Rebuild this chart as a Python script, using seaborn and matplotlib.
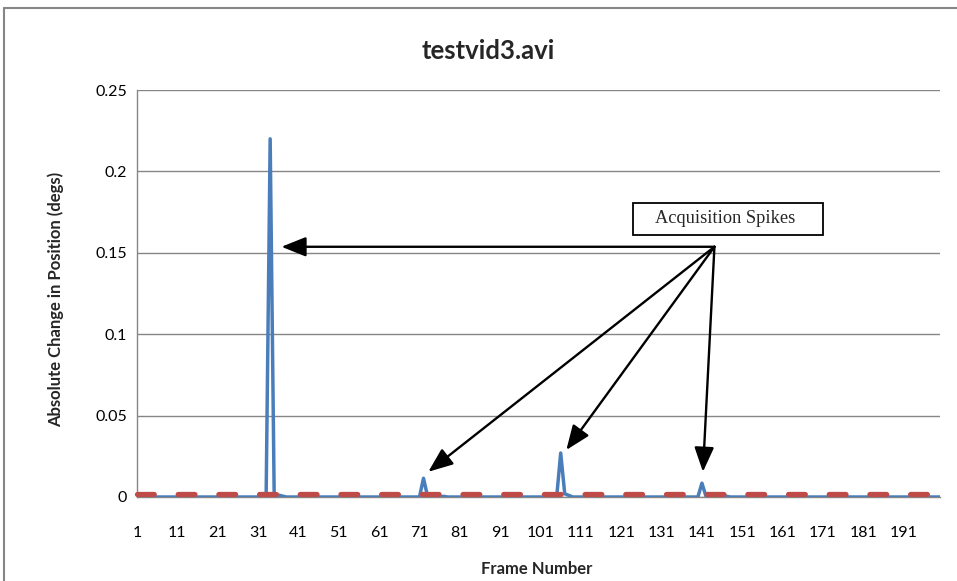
import matplotlib
matplotlib.use("Agg")
import matplotlib.pyplot as plt
from matplotlib.lines import Line2D
from matplotlib.patches import Rectangle
import seaborn as sns
import pandas as pd

# ---- data ----
frames = list(range(1, 201))
abs_change = [
    0, 0, 0, 0, 0, 0, 0, 0, 0, 0, 0, 0, 0, 0, 0, 0, 0, 0, 0, 0,            # 1-20
    0, 0, 0, 0, 0, 0, 0, 0, 0, 0, 0, 0, 0, 0.22, 0, 0.0012, 0.0006, 0, 0, 0,  # 21-40
    0, 0, 0, 0, 0, 0, 0, 0, 0, 0, 0, 0, 0, 0, 0, 0, 0, 0, 0, 0,            # 41-60
    0, 0, 0, 0, 0, 0, 0, 0, 0, 0, 0, 0.0115, 0.0005, 0, 0, 0, 0.0004, 0, 0, 0,  # 61-80
    0, 0, 0, 0, 0, 0, 0, 0, 0, 0, 0, 0, 0, 0, 0, 0, 0, 0, 0, 0,            # 81-100
    0, 0, 0, 0, 0, 0.027, 0.002, 0.001, 0, 0, 0, 0, 0.0004, 0, 0, 0, 0, 0, 0, 0,  # 101-120
    0, 0, 0, 0, 0, 0, 0, 0, 0, 0, 0, 0, 0, 0, 0, 0, 0, 0, 0, 0,            # 121-140
    0.0085, 0.0005, 0, 0, 0, 0, 0.0005, 0, 0, 0, 0, 0, 0, 0, 0, 0, 0, 0, 0, 0,  # 141-160
    0, 0, 0, 0, 0, 0, 0, 0, 0, 0, 0, 0, 0, 0, 0.0005, 0, 0, 0, 0, 0,       # 161-180
    0, 0, 0, 0, 0, 0, 0, 0, 0, 0, 0, 0, 0, 0, 0, 0, 0, 0, 0, 0,            # 181-200
]
threshold = [0.0016] * len(frames)

xtick_values = [1, 11, 21, 31, 41, 51, 61, 71, 81, 91, 101, 111, 121, 131, 141, 151, 161, 171, 181, 191]
ytick_values = [0, 0.05, 0.1, 0.15, 0.2, 0.25]
ytick_labels = ["0", "0.05", "0.1", "0.15", "0.2", "0.25"]

title = "testvid3.avi"
xlabel = "Frame Number"
ylabel = "Absolute Change in Position (degs)"
note = "Acquisition Spikes"

df = pd.DataFrame({"frame": frames, "change": abs_change, "threshold": threshold})

# ---- style ----
sns.set_style("white")
plt.rcParams["font.family"] = ["Lato", "DejaVu Sans"]

BLUE = "#4A7EBB"
RED = "#BE4B48"
GRID = "#868686"
W, H, DPI = 957, 581, 100

fig = plt.figure(figsize=(W / DPI, H / DPI), dpi=DPI)
ax = fig.add_axes([137 / W, 1 - 497 / H, (940 - 137) / W, (497 - 90) / H])

sns.lineplot(data=df, x="frame", y="change", ax=ax, color=BLUE, linewidth=2.5,
             zorder=3)
sns.lineplot(data=df, x="frame", y="threshold", ax=ax, color=RED, linewidth=3.8,
             zorder=4)
red_line = ax.lines[-1]
red_line.set_dashes((3.17, 4.54))
red_line.set_dash_capstyle("round")
red_line.set_clip_on(False)

ax.set_xlim(1, 200)
ax.set_ylim(0, 0.25)
ax.set_xticks(xtick_values)
ax.set_xticklabels([str(v) for v in xtick_values])
ax.set_yticks(ytick_values)
ax.set_yticklabels(ytick_labels)
ax.grid(axis="y", color=GRID, linewidth=1.0)
ax.set_axisbelow(True)
for side in ["top", "right"]:
    ax.spines[side].set_visible(False)
for side in ["left", "bottom"]:
    ax.spines[side].set_color(GRID)
    ax.spines[side].set_linewidth(1.0)
ax.tick_params(axis="both", direction="out", length=4, width=1.0, color=GRID,
               labelsize=11.5, labelcolor="black")
ax.tick_params(axis="x", pad=17)
ax.tick_params(axis="y", pad=3)
ax.set_xlabel("")
ax.set_ylabel("")

# axis titles and chart title
fig.text(537 / W, 1 - 569 / H, xlabel, ha="center", va="center", fontsize=12, fontweight="bold")
fig.text(56 / W, 1 - 299 / H, ylabel, ha="center", va="center", rotation=90, fontsize=12,
         fontweight="bold")
fig.text(488 / W, 1 - 51 / H, title, ha="center", va="center", fontsize=18.5, fontweight="bold")

# outer chart border
fig.add_artist(Line2D([4 / W, 4 / W], [1 - 8 / H, 0], transform=fig.transFigure, color=GRID, lw=1.5))
fig.add_artist(Line2D([4 / W, 1], [1 - 8 / H, 1 - 8 / H], transform=fig.transFigure, color=GRID, lw=1.5))

# annotation arrows (data coordinates)
origin = (144.1, 0.1537)
tips = [(36.8, 0.1537), (73.2, 0.0155), (107.4, 0.0289), (141.25, 0.0155)]
for tip in tips:
    ax.annotate("", xy=tip, xytext=origin, xycoords="data", textcoords="data",
                arrowprops=dict(arrowstyle="-|>,head_length=1.5,head_width=0.6",
                                color="black", lw=1.7, shrinkA=0, shrinkB=0),
                zorder=6)

# annotation text box (figure pixels)
fig.add_artist(Rectangle((633 / W, 1 - 235 / H), 190 / W, 32 / H, transform=fig.transFigure,
                         facecolor="white", edgecolor="black", lw=1.3, zorder=7))
fig.text(725 / W, 1 - 218 / H, note, ha="center", va="center", fontsize=13.2,
         family=["Liberation Serif", "DejaVu Serif"], zorder=8)

fig.savefig("out.png", dpi=DPI)
